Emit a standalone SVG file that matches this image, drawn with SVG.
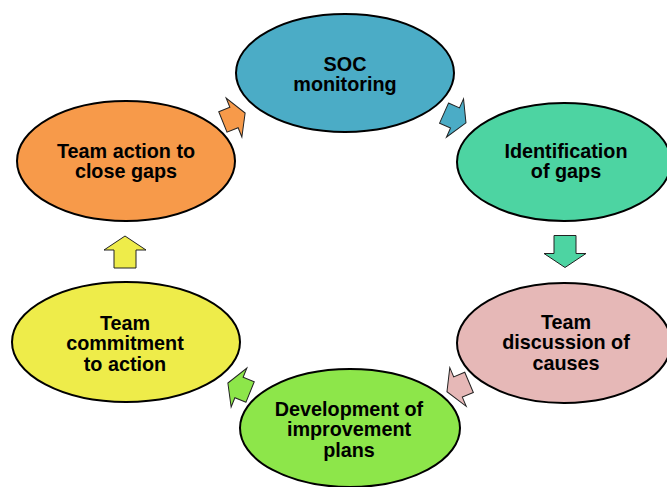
<svg xmlns="http://www.w3.org/2000/svg" width="667" height="487" viewBox="0 0 667 487">
<style>
.node ellipse{stroke:#000;stroke-width:2}
.node text{font-family:"Liberation Sans",Arial,sans-serif;font-weight:bold;font-size:19.8px;fill:#000;text-anchor:middle}
.arr{stroke:#222;stroke-width:1;stroke-linejoin:miter}
</style>
<defs>
<polygon id="diag" points="-12,-11 0,-11 0,-21 12,0 0,21 0,11 -12,11"/>
<polygon id="vert" points="-16,-11 2,-11 2,-21 16,0 2,21 2,11 -16,11"/>
</defs>
<rect width="667" height="487" fill="#fff"/>
<g id="n1" class="node">
<ellipse cx="345" cy="73" rx="109" ry="59" fill="#4BACC6"/>
<text x="345" y="70.5">SOC</text>
<text x="345" y="91">monitoring</text>
</g>
<g id="n2" class="node">
<ellipse cx="564" cy="162" rx="107" ry="59" fill="#4DD4A2"/>
<text x="566" y="157.5">Identification</text>
<text x="566" y="178">of gaps</text>
</g>
<g id="n3" class="node">
<ellipse cx="564" cy="343" rx="107" ry="60" fill="#E6B8B7"/>
<text x="566" y="328.5">Team</text>
<text x="566" y="349">discussion of</text>
<text x="566" y="369.5">causes</text>
</g>
<g id="n4" class="node">
<ellipse cx="350" cy="428" rx="110" ry="59" fill="#8DE64A"/>
<text x="349" y="415.5">Development of</text>
<text x="349" y="436">improvement</text>
<text x="349" y="456.5">plans</text>
</g>
<g id="n5" class="node">
<ellipse cx="126" cy="342" rx="114" ry="60" fill="#EEEC4A"/>
<text x="125" y="329.5">Team</text>
<text x="125" y="350">commitment</text>
<text x="125" y="370.5">to action</text>
</g>
<g id="n6" class="node">
<ellipse cx="126" cy="161" rx="109" ry="60" fill="#F79A4A"/>
<text x="126" y="157.5">Team action to</text>
<text x="126" y="178">close gaps</text>
</g>
<g id="connectors">
<use href="#diag" class="arr" fill="#F79A4A" transform="translate(234 117.5) rotate(-22)"/>
<use href="#diag" class="arr" fill="#4BACC6" transform="translate(455 118) rotate(24)"/>
<use href="#vert" class="arr" fill="#4DD4A2" transform="translate(565 251.5) rotate(90)"/>
<use href="#diag" class="arr" fill="#E6B8B7" transform="translate(458 387) rotate(157)"/>
<use href="#diag" class="arr" fill="#8DE64A" transform="translate(239 387.5) rotate(202)"/>
<use href="#vert" class="arr" fill="#EEEC4A" transform="translate(125 252) rotate(-90)"/>
</g>
</svg>
